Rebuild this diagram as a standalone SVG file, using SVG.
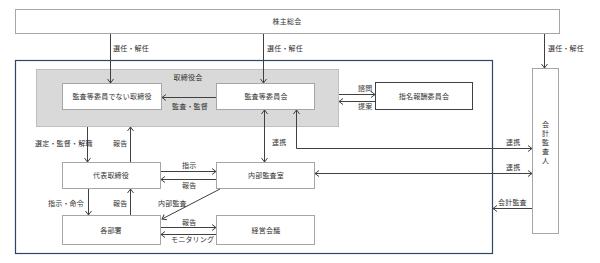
<svg xmlns="http://www.w3.org/2000/svg" width="600" height="263" viewBox="0 0 600 263">
<defs>
<marker id="ah" markerUnits="userSpaceOnUse" markerWidth="8" markerHeight="8" refX="5" refY="3.5" orient="auto-start-reverse">
<path d="M1,0.5 L5,3.5 L1,6.5" fill="none" stroke="#404040" stroke-width="1"/>
</marker>
</defs>
<style>
text{font-family:"Noto Sans CJK JP","Noto Sans CJK SC",sans-serif;font-size:7px;fill:#333;letter-spacing:0.2px}
.c{text-anchor:middle}
.box{fill:#fff;stroke:#a6a6a6;stroke-width:1}
.dk{fill:#fff;stroke:#404040;stroke-width:1}
.ln{fill:none;stroke:#404040;stroke-width:1}
.a{fill:none;stroke:#404040;stroke-width:1;marker-end:url(#ah)}
.a2{fill:none;stroke:#404040;stroke-width:1;marker-end:url(#ah);marker-start:url(#ah)}
</style>
<rect width="600" height="263" fill="#fff"/>
<g id="outer"><rect x="15.5" y="60.5" width="477" height="193" fill="none" stroke="#2f4566" stroke-width="1.2"/></g>
<g id="board"><rect x="36.5" y="69.5" width="302" height="57" fill="#d9d9d9" stroke="#bfbfbf"/><text class="c" x="188" y="80">取締役会</text></g>
<g id="shareholders"><rect class="box" x="15.5" y="9.5" width="544" height="24"/><text class="c" x="287" y="24">株主総会</text></g>
<g id="directors"><rect class="box" x="62.5" y="83.5" width="99" height="26"/><text class="c" x="112" y="99">監査等委員でない取締役</text></g>
<g id="auditcommittee"><rect class="box" x="216.5" y="83.5" width="98" height="26"/><text class="c" x="266" y="99">監査等委員会</text></g>
<g id="nomination"><rect class="dk" x="375.5" y="82.5" width="97" height="27"/><text class="c" x="424" y="99">指名報酬委員会</text></g>
<g id="ceo"><rect class="box" x="62.5" y="162.5" width="98" height="26"/><text class="c" x="111" y="178">代表取締役</text></g>
<g id="internalaudit"><rect class="box" x="216.5" y="162.5" width="98" height="26"/><text class="c" x="266" y="178">内部監査室</text></g>
<g id="departments"><rect class="box" x="62.5" y="215.5" width="98" height="29"/><text class="c" x="111" y="233">各部署</text></g>
<g id="mgmtmeeting"><rect class="box" x="216.5" y="215.5" width="98" height="29"/><text class="c" x="266" y="233">経営会議</text></g>
<g id="accountant"><rect class="box" x="532.5" y="68.5" width="26" height="165"/>
<text class="c" x="545.5" y="127">会</text><text class="c" x="545.5" y="136">計</text><text class="c" x="545.5" y="145">監</text><text class="c" x="545.5" y="154">査</text><text class="c" x="545.5" y="163">人</text></g>
<g id="connectors">
<line class="a" x1="110.5" y1="34" x2="110.5" y2="83"/>
<line class="a" x1="263.5" y1="34" x2="263.5" y2="83"/>
<line class="a" x1="544.5" y1="34" x2="544.5" y2="68"/>
<line class="a" x1="216" y1="97.5" x2="162" y2="97.5"/>
<line class="a" x1="339" y1="94.5" x2="375" y2="94.5"/>
<line class="a" x1="375" y1="101.5" x2="339" y2="101.5"/>
<line class="a2" x1="264.5" y1="110" x2="264.5" y2="162"/>
<polyline class="a2" points="296.5,110 296.5,148.5 532,148.5"/>
<line class="a2" x1="315" y1="173.5" x2="532" y2="173.5"/>
<line class="a" x1="87.5" y1="127" x2="87.5" y2="162"/>
<line class="a" x1="130.5" y1="162" x2="130.5" y2="127"/>
<line class="a" x1="161" y1="171.5" x2="216" y2="171.5"/>
<line class="a" x1="216" y1="179.5" x2="161" y2="179.5"/>
<line class="a" x1="88.5" y1="189" x2="88.5" y2="215"/>
<line class="a" x1="130.5" y1="215" x2="130.5" y2="189"/>
<line class="a" x1="220" y1="189" x2="162" y2="219"/>
<line class="a" x1="161" y1="227.5" x2="216" y2="227.5"/>
<line class="a" x1="216" y1="234.5" x2="161" y2="234.5"/>
<line class="a" x1="532" y1="208.5" x2="493" y2="208.5"/>
</g>
<g id="labels">
<text x="113" y="51">選任・解任</text>
<text x="267" y="51">選任・解任</text>
<text x="548" y="51">選任・解任</text>
<text x="172" y="109">監査・監督</text>
<text x="358" y="91">諮問</text>
<text x="358" y="109">提案</text>
<text x="272" y="145">連携</text>
<text x="506" y="145">連携</text>
<text x="506" y="170">連携</text>
<text x="35" y="146">選定・監督・解職</text>
<text x="113" y="146">報告</text>
<text x="182" y="168">指示</text>
<text x="182" y="188">報告</text>
<text x="48" y="206">指示・命令</text>
<text x="113" y="206">報告</text>
<text x="158" y="206">内部監査</text>
<text x="182" y="225">報告</text>
<text x="171" y="242">モニタリング</text>
<text x="498" y="205">会計監査</text>
</g>
</svg>
